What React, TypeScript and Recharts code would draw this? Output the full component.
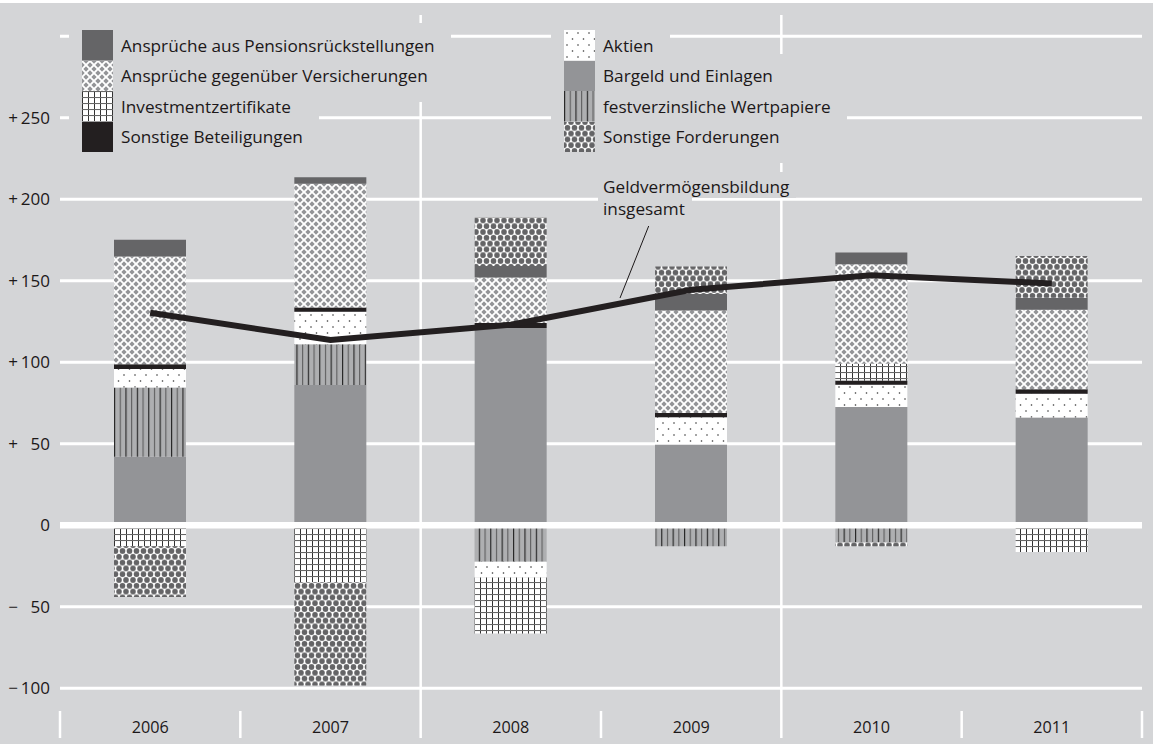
import React from 'react'
import {
  ComposedChart,
  Bar,
  Line,
  XAxis,
  YAxis,
  CartesianGrid,
  ReferenceLine,
} from 'recharts'

// Geldvermögensbildung der privaten Haushalte, Mrd €
const years = ['2006', '2007', '2008', '2009', '2010', '2011']
const bargeld = [42, 86, 121, 49.5, 72.5, 66]
const festverz = [42.5, 25, -22.5, -13, -10.5, 0]
const aktien = [11.3, 20, -9.6, 16.7, 13.7, 14.7]
const sonstBet = [3, 2.5, 3, 2.7, 2.6, 2.7]
const invest = [-13, -35, -34.4, 0, 10.3, -16.5]
const versich = [66, 76, 28, 62.8, 61, 48.7]
const pension = [10.3, 4, 7, 10.2, 7.2, 7.5]
const sonstFord = [-31, -63.4, 30, 16.8, -2.5, 25.6]
const total = [130.3, 113.6, 123, 144.4, 153.4, 148.3]

const yTicks = [-100, -50, 0, 50, 100, 150, 200, 250, 300]

const W = 1153
const H = 744
const BG = '#d4d5d7'
const INK = '#1c1819'
const FONT = '"Open Sans", "Noto Sans", sans-serif'
const MARGIN = { top: 15, right: 11, bottom: 0, left: 0 }
const Y_AXIS_W = 60
const X_AXIS_H = 33
const BAND = (W - MARGIN.left - MARGIN.right - Y_AXIS_W) / years.length
const TEXT_SIZE = 17.2

// stacking order = drawing order with stackOffset="sign"
const series = [
  { key: 'bargeld', name: 'Bargeld und Einlagen', values: bargeld, fill: '#939497' },
  { key: 'festverz', name: 'festverzinsliche Wertpapiere', values: festverz, fill: 'url(#pat-fest)' },
  { key: 'aktien', name: 'Aktien', values: aktien, fill: 'url(#pat-akt)' },
  { key: 'sonstBet', name: 'Sonstige Beteiligungen', values: sonstBet, fill: '#231f20' },
  { key: 'invest', name: 'Investmentzertifikate', values: invest, fill: 'url(#pat-inv)' },
  { key: 'versich', name: 'Ansprüche gegenüber Versicherungen', values: versich, fill: 'url(#pat-vers)' },
  { key: 'pension', name: 'Ansprüche aus Pensionsrückstellungen', values: pension, fill: '#656567' },
  { key: 'sonstFord', name: 'Sonstige Forderungen', values: sonstFord, fill: 'url(#pat-ford)' },
]

const legendLeft = ['pension', 'versich', 'invest', 'sonstBet']
const legendRight = ['aktien', 'bargeld', 'festverz', 'sonstFord']

const data = years.map((year, i) => {
  const row: Record<string, string | number> = { year, total: total[i] }
  series.forEach((s) => {
    row[s.key] = s.values[i]
  })
  return row
})

function fmtY(v: number): string {
  if (v === 300) return ''
  if (v === 0) return '0'
  const sign = v > 0 ? '+' : '\u2212'
  const abs = Math.abs(v)
  return abs < 100 ? `${sign}\u2009\u2007${abs}` : `${sign}\u2009${abs}`
}

function Patterns() {
  return (
    <defs>
      <pattern id="pat-vers" width="8" height="8" patternUnits="userSpaceOnUse">
        <rect width="8" height="8" fill="#939497" />
        <path d="M-1,-1 L9,9 M9,-1 L-1,9" stroke="#fff" strokeWidth="1.9" />
      </pattern>
      <pattern id="pat-inv" width="6" height="6" patternUnits="userSpaceOnUse">
        <rect width="6" height="6" fill="#fff" />
        <path d="M0.5,0 V6" stroke="#333" strokeWidth="1" />
        <path d="M0,0.5 H6" stroke="#666" strokeWidth="1.1" />
      </pattern>
      <pattern id="pat-akt" width="11" height="12" patternUnits="userSpaceOnUse">
        <rect width="11" height="12" fill="#fff" />
        <circle cx="3" cy="3" r="0.8" fill="#333" />
        <circle cx="8.5" cy="9" r="0.8" fill="#333" />
      </pattern>
      <pattern id="pat-fest" width="11.4" height="4" patternUnits="userSpaceOnUse">
        <rect width="11.4" height="4" fill="#aeafb1" />
        <path d="M0.6,0 V4" stroke="#1e1e1e" strokeWidth="1.1" />
        <path d="M6.3,0 V4" stroke="#555" strokeWidth="1" />
      </pattern>
      <pattern id="pat-ford" width="7" height="11.6" patternUnits="userSpaceOnUse">
        <rect width="7" height="11.6" fill="#fff" />
        <circle cx="0" cy="0" r="2.8" fill="#646466" />
        <circle cx="7" cy="0" r="2.8" fill="#646466" />
        <circle cx="0" cy="11.6" r="2.8" fill="#646466" />
        <circle cx="7" cy="11.6" r="2.8" fill="#646466" />
        <circle cx="3.5" cy="5.8" r="2.8" fill="#646466" />
      </pattern>
    </defs>
  )
}

function YearTick(props: any) {
  const { x, y, payload, index } = props
  const half = BAND / 2
  return (
    <g>
      <line x1={x - half} x2={x - half} y1={y} y2={y + 27} stroke="#fff" strokeWidth={2.5} />
      {index === years.length - 1 && (
        <line x1={x + half} x2={x + half} y1={y} y2={y + 27} stroke="#fff" strokeWidth={2.5} />
      )}
      <text x={x} y={y + 22} textAnchor="middle" fill={INK} fontSize={16.2} fontFamily={FONT}>
        {payload.value}
      </text>
    </g>
  )
}

function LegendColumn({ keys, left }: { keys: string[]; left: number }) {
  return (
    <div style={{ position: 'absolute', left, top: 30, zIndex: 1 }}>
      {keys.map((k) => {
        const s = series.find((x) => x.key === k)!
        return (
          <div
            key={k}
            style={{ position: 'relative', display: 'flex', alignItems: 'center', height: 30.5, width: 'fit-content' }}
          >
            <span
              style={{ position: 'absolute', top: -7, bottom: -11, left: -13, right: -16, background: BG, zIndex: -1 }}
            />
            <svg width={31} height={30.5} style={{ display: 'block' }}>
              <rect width={31} height={30.5} fill={s.fill} />
            </svg>
            <span style={{ marginLeft: 8, fontSize: TEXT_SIZE, color: INK, whiteSpace: 'nowrap' }}>{s.name}</span>
          </div>
        )
      })}
    </div>
  )
}

function Annotation() {
  const lineStyle: React.CSSProperties = {
    display: 'block',
    width: 'fit-content',
    background: BG,
    padding: '4px 7px 4px 5px',
    marginLeft: -5,
    fontSize: TEXT_SIZE,
    lineHeight: '22px',
    color: INK,
    whiteSpace: 'nowrap',
  }
  return (
    <>
      <div style={{ position: 'absolute', left: 603, top: 172, zIndex: 1 }}>
        <span style={{ ...lineStyle, paddingBottom: 0 }}>Geldvermögensbildung</span>
        <span style={{ ...lineStyle, paddingTop: 0 }}>insgesamt</span>
      </div>
      <svg width={W} height={H} style={{ position: 'absolute', left: 0, top: 0, zIndex: 2, pointerEvents: 'none' }}>
        <line x1={648.7} y1={226} x2={620} y2={298} stroke={INK} strokeWidth={1} />
      </svg>
    </>
  )
}

export default function App() {
  return (
    <div style={{ position: 'relative', width: W, height: H, background: '#fff', fontFamily: FONT, overflow: 'hidden' }}>
      <style>{'body{margin:0}'}</style>
      <div style={{ position: 'absolute', left: 0, top: 3, width: W, height: H - 3, background: BG }} />
      <div style={{ position: 'absolute', left: 0, top: 0 }}>
        <ComposedChart width={W} height={H} data={data} margin={MARGIN} stackOffset="sign">
          <Patterns />
          <CartesianGrid
            horizontal
            vertical={false}
            horizontalValues={yTicks}
            stroke="#fff"
            strokeWidth={3}
          />
          <XAxis
            dataKey="year"
            height={X_AXIS_H}
            axisLine={false}
            tickLine={false}
            tickSize={0}
            tickMargin={0}
            interval={0}
            tick={<YearTick />}
          />
          <YAxis
            domain={[-114, 313]}
            ticks={yTicks}
            interval={0}
            tickFormatter={fmtY}
            axisLine={false}
            tickLine={false}
            tickSize={0}
            tickMargin={10}
            width={Y_AXIS_W}
            tick={{ fill: INK, fontSize: 17, fontFamily: FONT }}
          />
          <ReferenceLine x="2007" position="end" stroke="#fff" strokeWidth={2.5} />
          <ReferenceLine x="2009" position="end" stroke="#fff" strokeWidth={2.5} />
          {series.map((s) => (
            <Bar
              key={s.key}
              dataKey={s.key}
              name={s.name}
              stackId="a"
              fill={s.fill}
              barSize={72}
              isAnimationActive={false}
            />
          ))}
          <ReferenceLine y={0} stroke="#fff" strokeWidth={6.5} />
          <Line
            dataKey="total"
            type="linear"
            stroke="#231f20"
            strokeWidth={6}
            dot={false}
            activeDot={false}
            isAnimationActive={false}
          />
        </ComposedChart>
      </div>
      <LegendColumn keys={legendLeft} left={82} />
      <LegendColumn keys={legendRight} left={564} />
      <Annotation />
    </div>
  )
}
